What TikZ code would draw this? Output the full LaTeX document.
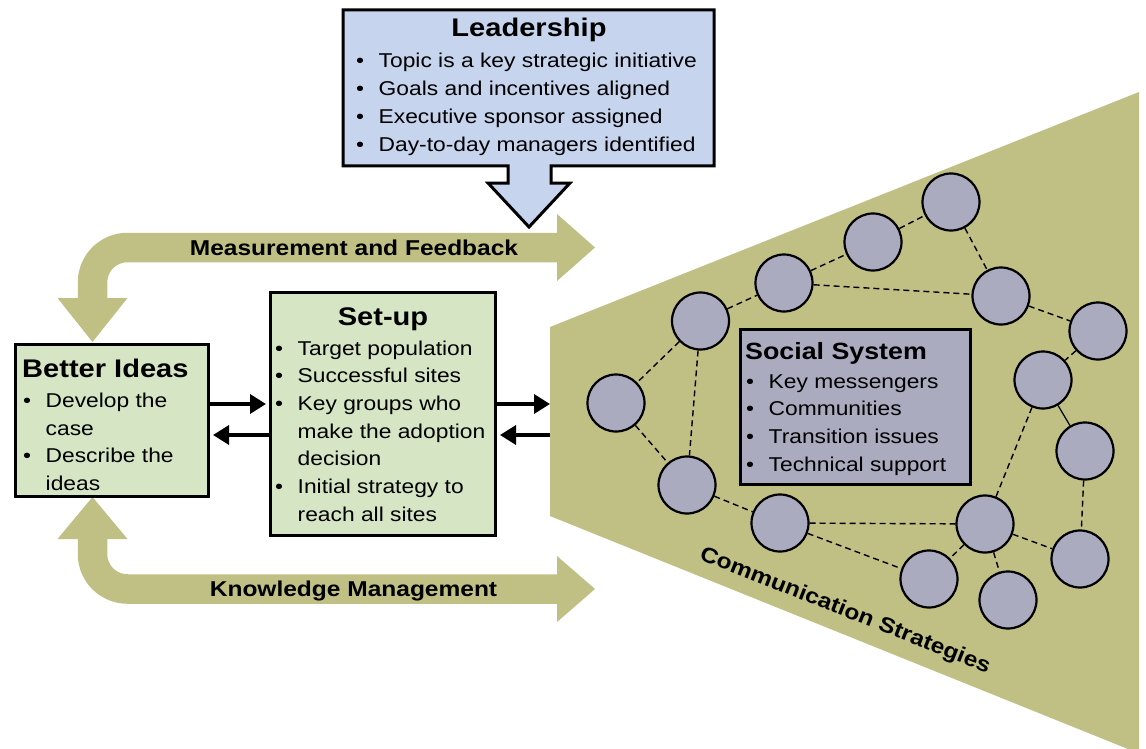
\documentclass[tikz,border=0pt]{standalone}
\usepackage{fontspec}
\setmainfont{Liberation Sans}[FakeStretch=1.14]
\usetikzlibrary{arrows.meta}
\definecolor{oliveband}{RGB}{192,191,132}
\definecolor{lav}{RGB}{170,171,191}
\definecolor{lblue}{RGB}{198,212,238}
\definecolor{lgreen}{RGB}{214,229,196}
\newcommand\bulletmark{\makebox[22.5pt][l]{•}}
\begin{document}
\begin{tikzpicture}[x=1pt,y=-1pt,
  box/.style={draw=black,line width=3pt},
  band/.style={draw=oliveband,line width=29.5pt,rounded corners=35pt},
  headtri/.style={fill=oliveband,draw=none},
  title/.style={font=\bfseries\fontsize{25.5}{30}\selectfont,inner sep=0pt},
  blist/.style={font=\fontsize{20}{27.7}\selectfont,inner sep=0pt,anchor=base west,align=left},
  bandlabel/.style={font=\bfseries\fontsize{21.5}{25}\selectfont,inner sep=0pt,anchor=base},
  person/.style={circle,draw=black,line width=2.2pt,fill=lav,minimum size=57pt,inner sep=0pt},
  tie/.style={line width=1.4pt,dash pattern=on 6pt off 4pt},
  flow/.style={line width=3.5pt,-{Triangle[length=16pt,width=19pt]}},
]
\useasboundingbox (0,0) rectangle (1146,749);
\fill[white] (0,0) rectangle (1146,749);

% olive loop arrows
\draw[band] (558,247.5) -| (92.5,299);
\fill[headtri] (557,214) -- (595,247.5) -- (557,281) -- cycle;
\fill[headtri] (57.5,298) -- (127.5,298) -- (92.5,342) -- cycle;
\draw[band] (558,589) -| (92.5,538);
\fill[headtri] (557,556) -- (595,589) -- (557,622) -- cycle;
\fill[headtri] (57.5,539) -- (127.5,539) -- (92.5,497) -- cycle;

% communication wedge
\fill[oliveband] (550,327) -- (1139,92) -- (1139,749) -- (1128,749) -- (550,516) -- cycle;
\coordinate (wedgeA) at (550,404);
\coordinate (wedgeB) at (550,435);

% social network
\node[person] (A) at (700.5,321) {};
\node[person] (B) at (784,283) {};
\node[person] (C) at (873,242) {};
\node[person] (D) at (951,202) {};
\node[person] (E) at (1001,296) {};
\node[person] (F) at (1098,331) {};
\node[person] (G) at (1043,380) {};
\node[person] (H) at (616,403) {};
\node[person] (I) at (687,485) {};
\node[person] (J) at (780,523) {};
\node[person] (K) at (1085,451) {};
\node[person] (L) at (985,524) {};
\node[person] (M) at (1080,559) {};
\node[person] (N) at (929,579) {};
\node[person] (O) at (1008,600) {};
\draw[tie] (A) -- (B);
\draw[tie] (B) -- (C);
\draw[tie] (C) -- (D);
\draw[tie] (D) -- (E);
\draw[tie] (B) -- (E);
\draw[tie] (E) -- (F);
\draw[tie] (F) -- (G);
\draw[line width=1.2pt] (G) -- (K);
\draw[tie] (G) -- (L);
\draw[tie] (K) -- (M);
\draw[tie] (L) -- (M);
\draw[tie] (L) -- (N);
\draw[tie] (L) -- (O);
\draw[tie] (J) -- (L);
\draw[tie] (J) -- (N);
\draw[tie] (A) -- (H);
\draw[tie] (A) -- (I);
\draw[tie] (H) -- (I);
\draw[tie] (I) -- (J);

% boxes
\node[box,line width=2.6pt,fill=lav,minimum width=230pt,minimum height=155pt,inner sep=0pt] (social) at (855.5,407) {};
\node[box,fill=lgreen,minimum width=193pt,minimum height=152pt,inner sep=0pt] (better) at (112,420.5) {};
\node[box,fill=lgreen,minimum width=225pt,minimum height=243pt,inner sep=0pt] (setup) at (383,414) {};
\draw[box,fill=lblue,line join=miter] (343,10) -- (714,10) -- (714,166) -- (551,166) -- (551,183) -- (570,183) -- (529,227) -- (488,183) -- (508,183) -- (508,166) -- (343,166) -- cycle;

% small arrows
\draw[flow,shorten >=3pt] (better.east |- 0,404) -- (setup.west |- 0,404);
\draw[flow,shorten >=3pt] (setup.west |- 0,435) -- (better.east |- 0,435);
\draw[flow] (setup.east |- 0,404) -- (wedgeA);
\draw[flow,shorten >=3pt] (wedgeB) -- (setup.east |- 0,435);

% texts
\node[title,anchor=base] (leadT) at (529,37) {Leadership};
\node[blist] (leadL) at (356,68) {\begin{tabular}[t]{@{}l@{}l@{}}
\bulletmark & Topic is a key strategic initiative\\
\bulletmark & Goals and incentives aligned\\
\bulletmark & Executive sponsor assigned\\
\bulletmark & Day-to-day managers identified
\end{tabular}};
\node[title,anchor=base west] (betterT) at (22,377) {Better Ideas};
\node[blist] (betterL) at (23,407.5) {\begin{tabular}[t]{@{}l@{}l@{}}
\bulletmark & Develop the\\
 & case\\
\bulletmark & Describe the\\
 & ideas
\end{tabular}};
\node[title,anchor=base] (setupT) at (383,325) {Set-up};
\node[blist] (setupL) at (275,355) {\begin{tabular}[t]{@{}l@{}l@{}}
\bulletmark & Target population\\
\bulletmark & Successful sites\\
\bulletmark & Key groups who\\
 & make the adoption\\
 & decision\\
\bulletmark & Initial strategy to\\
 & reach all sites
\end{tabular}};
\node[title,anchor=base west,font=\bfseries\fontsize{23.5}{28}\selectfont] (socialT) at (745,359) {Social System};
\node[blist] (socialL) at (746,388) {\begin{tabular}[t]{@{}l@{}l@{}}
\bulletmark & Key messengers\\
\bulletmark & Communities\\
\bulletmark & Transition issues\\
\bulletmark & Technical support
\end{tabular}};
\node[bandlabel] (mfT) at (354,255) {Measurement and Feedback};
\node[bandlabel] (kmT) at (353.5,596) {Knowledge Management};
\node[bandlabel,anchor=center,rotate=-21.5] (csT) at (845,611) {Communication Strategies};
\end{tikzpicture}
\end{document}
